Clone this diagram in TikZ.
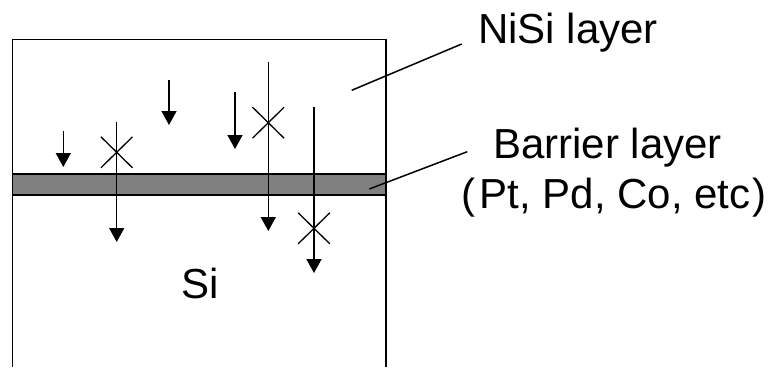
\documentclass[tikz,border=0pt]{standalone}
\usepackage{fontspec}
\setmainfont{Liberation Sans}
\usetikzlibrary{arrows.meta}
\begin{document}
\begin{tikzpicture}[x=1pt,y=-1pt,
  wall/.style={line width=1.6pt},
  flux/.style={line width=1.5pt,-{Triangle[width=15pt,length=14pt]}},
  blocked/.style={line width=1.3pt},
  leader/.style={line width=1.5pt},
  lbl/.style={anchor=base west,inner sep=0pt,font=\fontsize{42}{48}\selectfont}]
\useasboundingbox (0,0) rectangle (774,367);
% barrier band
\fill[black!50] (12.3,174) rectangle (386,195);
\draw[wall] (12.3,174) -- (386,174);
\draw[wall] (12.3,195) -- (386,195);
% box (open at the bottom)
\draw[wall] (12.3,367) -- (12.3,39.3) -- (386,39.3) -- (386,367);
% short arrows (stopped in NiSi)
\coordinate (a1s) at (63.3,131);   \coordinate (a1e) at (63.3,167);
\coordinate (a2s) at (169,80);     \coordinate (a2e) at (169,125);
\coordinate (a3s) at (235,92);     \coordinate (a3e) at (235,149);
\draw[flux] (a1s) -- (a1e);
\draw[flux] (a2s) -- (a2e);
\draw[flux] (a3s) -- (a3e);
% long arrows through barrier
\coordinate (a4s) at (116.7,122.3); \coordinate (a4e) at (116.7,242);
\coordinate (a5s) at (268.3,61.7);  \coordinate (a5e) at (268.3,231);
\coordinate (a6s) at (314,106.7);   \coordinate (a6e) at (314,273);
\draw[flux] (a4s) -- (a4e);
\draw[flux] (a5s) -- (a5e);
\draw[flux] (a6s) -- (a6e);
% crosses
\foreach \n/\cx/\cy in {x1/116.7/152.3, x2/268.3/122.7, x3/314/228.3}{
  \coordinate (\n) at (\cx,\cy);
  \draw[blocked] ([shift={(-15.8,-15.5)}]\n) -- ([shift={(15.8,15.5)}]\n);
  \draw[blocked] ([shift={(-15.8,15.5)}]\n) -- ([shift={(15.8,-15.5)}]\n);
}
% labels
\node[lbl] (nisi) at (478,43.3) {NiSi layer};
\node[lbl] (barrier) at (493,158) {Barrier layer};
\node[lbl] (metals) at (461.7,208.5) {(\hspace{4pt}Pt, Pd, Co, etc\hspace{2pt})};
\node[lbl] (si) at (181.7,298.3) {Si};
% leader lines
\coordinate (l1a) at (351.7,90.3);  \coordinate (l1b) at (461.7,44);
\coordinate (l2a) at (369.3,189);   \coordinate (l2b) at (467.3,151.7);
\draw[leader] (l1a) -- (l1b);
\draw[leader] (l2a) -- (l2b);
\end{tikzpicture}
\end{document}
